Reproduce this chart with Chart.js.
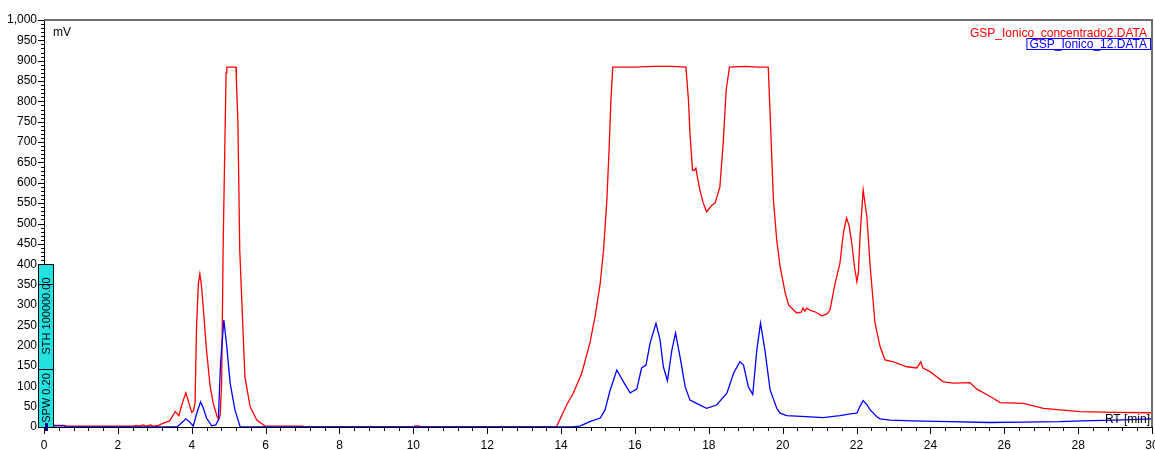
<!DOCTYPE html>
<html>
<head>
<meta charset="utf-8">
<script src="https://cdn.jsdelivr.net/npm/chart.js@4.4.0/dist/chart.umd.min.js"></script>
<style>
html, body { margin: 0; padding: 0; background: #fff; }
</style>
</head>
<body>
<canvas id="chromChart" width="1155" height="450"></canvas>
<script>
// retention time (min) and signal (mV)
var redName = 'GSP_Ionico_concentrado2.DATA';
var redTime = [0, 0.55, 0.6, 2.4, 2.5, 2.55, 2.7, 2.75, 2.9, 2.95, 3.1, 3.25, 3.4, 3.5, 3.55, 3.65, 3.75, 3.84, 3.92, 4.0,
    4.05, 4.09, 4.13, 4.18, 4.22, 4.26, 4.31, 4.4, 4.5, 4.58, 4.69, 4.74, 4.77, 4.81, 4.85, 4.9, 4.93, 4.95, 5.2, 5.21,
    5.25, 5.3, 5.44, 5.58, 5.76, 5.98, 6.5, 7.0, 7.05, 10.0, 10.05, 10.15, 10.2, 13.85, 13.88, 14.15, 14.33, 14.56, 14.78, 14.92,
    15.06, 15.15, 15.24, 15.3, 15.35, 15.4, 16.0, 16.5, 17.0, 17.38, 17.45, 17.49, 17.56, 17.6, 17.65, 17.7, 17.76, 17.85, 17.94, 18.0,
    18.08, 18.17, 18.3, 18.39, 18.47, 18.56, 19.0, 19.3, 19.61, 19.68, 19.75, 19.84, 19.93, 20.07, 20.16, 20.38, 20.5, 20.55, 20.6, 20.65,
    20.74, 20.9, 21.06, 21.2, 21.28, 21.42, 21.55, 21.65, 21.73, 21.8, 21.87, 21.95, 22.01, 22.05, 22.1, 22.18, 22.28, 22.37, 22.5, 22.64,
    22.77, 23.0, 23.36, 23.63, 23.74, 23.8, 23.99, 24.35, 24.62, 25.07, 25.26, 25.62, 25.89, 26.52, 27.06, 28.05, 29, 30];
var redMv = [4, 4, 2, 2, 4, 2, 5, 2, 5, 2, 4, 10, 15, 30, 38, 28, 60, 84, 60, 36,
    40, 60, 246, 353, 376, 350, 296, 189, 99, 59, 25, 20, 30, 108, 440, 712, 870, 884, 884, 850,
    750, 435, 123, 50, 17, 3, 2, 2, 0, 0, 3, 3, 0, 0, 1, 54, 83, 132, 206, 271,
    353, 435, 558, 681, 803, 884, 884, 886, 886, 884, 803, 722, 631, 630, 636, 610, 582, 550, 529, 535,
    545, 550, 590, 698, 828, 884, 886, 884, 884, 722, 558, 459, 394, 329, 300, 280, 282, 292, 285, 292,
    287, 282, 273, 278, 287, 353, 402, 480, 513, 495, 452, 390, 357, 380, 477, 582, 517, 394, 255, 197,
    165, 160, 148, 145, 160, 145, 136, 111, 108, 109, 93, 75, 60, 58, 46, 38, 36, 35];

var blueName = 'GSP_Ionico_12.DATA';
var blueTime = [0, 0.55, 0.6, 3.6, 3.7, 3.84, 3.95, 4.04, 4.14, 4.24, 4.32, 4.4, 4.54, 4.65, 4.72, 4.78, 4.87, 4.95, 5.04, 5.17,
    5.31, 5.4, 14.3, 14.51, 14.78, 15.06, 15.19, 15.33, 15.51, 15.69, 15.87, 16.05, 16.18, 16.3, 16.41, 16.57, 16.68, 16.77, 16.88, 17.0,
    17.1, 17.22, 17.36, 17.49, 17.67, 17.94, 18.21, 18.49, 18.67, 18.84, 18.94, 19.07, 19.19, 19.3, 19.4, 19.52, 19.66, 19.84, 19.93, 20.11,
    20.5, 21.1, 21.55, 21.83, 22.01, 22.1, 22.18, 22.28, 22.37, 22.55, 22.64, 22.91, 23.5, 24.5, 25.6, 26.5, 27.5, 28.1, 29, 30];
var blueMv = [3, 3, 0, 0, 8, 20, 12, 2, 35, 62, 45, 22, 3, 5, 17, 157, 263, 197, 108, 42,
    1, 0, 0, 2, 13, 22, 42, 91, 140, 111, 84, 93, 145, 152, 206, 255, 214, 148, 114, 189,
    231, 173, 99, 66, 58, 46, 54, 83, 132, 160, 152, 99, 80, 189, 255, 189, 91, 46, 34, 28,
    26, 23, 28, 32, 34, 52, 65, 55, 42, 25, 20, 17, 15, 13, 11, 12, 13, 15, 17, 20];

var xTicks = [0, 2, 4, 6, 8, 10, 12, 14, 16, 18, 20, 22, 24, 26, 28, 30];
var yTicks = [0, 50, 100, 150, 200, 250, 300, 350, 400, 450, 500, 550, 600, 650, 700, 750, 800, 850, 900, 950, 1000];

function toPoints(t, v) {
    var pts = [];
    for (var i = 0; i < t.length; i++) pts.push({ x: t[i], y: v[i] });
    return pts;
}

Chart.defaults.font.family = 'Arial, "Liberation Sans", sans-serif';
Chart.defaults.font.size = 12;
Chart.defaults.color = '#000';

// minor ticks, frame, labels and the integration box
var decorations = {
    id: 'decorations',
    afterDraw: function (chart) {
        var c = chart.ctx, a = chart.chartArea;
        var xs = chart.scales.x, ys = chart.scales.y;
        c.save();
        c.strokeStyle = '#6e6e6e';
        c.lineWidth = 2;
        c.beginPath();
        c.moveTo(a.left, a.top);
        c.lineTo(a.right, a.top);
        c.lineTo(a.right, a.bottom);
        c.stroke();

        c.strokeStyle = '#000';
        c.lineWidth = 1;
        c.beginPath();
        for (var v = 0; v <= 1000; v += 10) {
            var py = Math.round(ys.getPixelForValue(v)) + 0.5;
            var len = (v % 50 === 0) ? 6 : 3;
            c.moveTo(a.left - len, py);
            c.lineTo(a.left, py);
        }
        for (var k = 0; k <= 75; k++) {
            var t = k * 0.4;
            var px = Math.round(xs.getPixelForValue(t)) + 0.5;
            var l2 = (k % 5 === 0) ? 7 : 4;
            c.moveTo(px, a.bottom);
            c.lineTo(px, a.bottom + l2);
        }
        c.stroke();

        c.font = '12px Arial, "Liberation Sans", sans-serif';
        c.fillStyle = '#000';
        c.textBaseline = 'top';
        c.textAlign = 'left';
        c.fillText('mV', a.left + 9, a.top + 7);
        c.textAlign = 'right';
        c.textBaseline = 'bottom';
        c.fillText('RT [min]', a.right - 2, a.bottom - 1);

        c.textBaseline = 'top';
        c.fillStyle = '#ff0000';
        c.fillText(redName, a.right - 5, a.top + 8);
        c.fillStyle = '#0000ff';
        c.fillText(blueName, a.right - 5, a.top + 19);
        var w = c.measureText(blueName).width;
        c.strokeStyle = '#0000ff';
        c.strokeRect(a.right - 8 - w + 0.5, a.top + 18.5, w + 6, 11);

        // SPW / STH box
        var bx = 38.5, btop = 264.5, bbot = a.bottom + 0.5;
        c.fillStyle = '#22e2e2';
        c.fillRect(bx, btop, 15, bbot - btop);
        c.strokeStyle = '#000';
        c.strokeRect(bx, btop, 15, bbot - btop);
        c.beginPath();
        c.moveTo(bx, 284.5); c.lineTo(bx + 15, 284.5);
        c.moveTo(bx, 369.5); c.lineTo(bx + 15, 369.5);
        c.stroke();
        c.fillStyle = '#000';
        c.font = '11px Arial, "Liberation Sans", sans-serif';
        c.textAlign = 'center';
        c.textBaseline = 'middle';
        c.save();
        c.translate(bx + 8, 398);
        c.rotate(-Math.PI / 2);
        c.fillText('SPW 0.20', 0, 0);
        c.restore();
        c.save();
        c.translate(bx + 8, 316);
        c.rotate(-Math.PI / 2);
        c.fillText('STH 100000.00', 0, 0);
        c.restore();
        c.fillStyle = '#000080';
        c.fillRect(45, 423, 3, 8);
        c.restore();
    }
};

var ctx = document.getElementById('chromChart').getContext('2d');
var chart = new Chart(ctx, {
    type: 'line',
    data: {
        datasets: [{
            label: blueName,
            data: toPoints(blueTime, blueMv),
            borderColor: '#0000ff',
            borderWidth: 1.3,
            pointRadius: 0,
            tension: 0,
            order: 1
        }, {
            label: redName,
            data: toPoints(redTime, redMv),
            borderColor: '#ff0000',
            borderWidth: 1.3,
            pointRadius: 0,
            tension: 0,
            order: 2
        }]
    },
    options: {
        responsive: false,
        animation: false,
        events: [],
        layout: { padding: { top: 20, right: 3, left: 0, bottom: 0 } },
        plugins: { legend: { display: false }, tooltip: { enabled: false } },
        scales: {
            x: {
                type: 'linear',
                min: 0,
                max: 30,
                afterBuildTicks: function (s) { s.ticks = xTicks.map(function (v) { return { value: v }; }); },
                afterFit: function (s) { s.height = 23; s.paddingLeft = 0; s.paddingRight = 0; },
                grid: { display: false, drawTicks: false },
                border: { display: true, color: '#000', width: 1 },
                ticks: { padding: 11, autoSkip: false, maxRotation: 0 }
            },
            y: {
                min: 0,
                max: 1000,
                afterBuildTicks: function (s) { s.ticks = yTicks.map(function (v) { return { value: v }; }); },
                afterFit: function (s) { s.width = 44; s.paddingTop = 0; s.paddingBottom = 0; },
                grid: { display: false, drawTicks: false },
                border: { display: true, color: '#000', width: 1 },
                ticks: {
                    padding: 7,
                    autoSkip: false,
                    callback: function (v) { return v.toLocaleString('en-US'); }
                }
            }
        }
    },
    plugins: [decorations]
});
</script>
</body>
</html>
